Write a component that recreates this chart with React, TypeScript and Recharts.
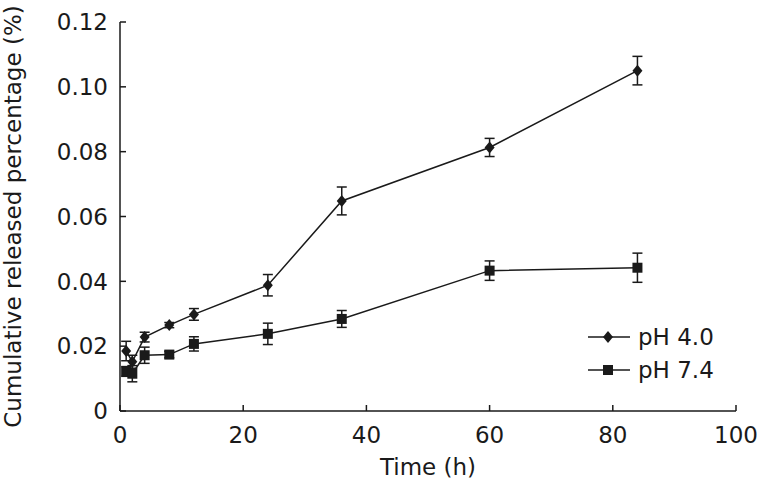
import React from "react";
import {
  ComposedChart,
  Line,
  XAxis,
  YAxis,
  ErrorBar,
  Legend,
} from "recharts";

// sampling times (h)
const times = [1, 2, 4, 8, 12, 24, 36, 60, 84];

// cumulative released percentage
const ph40Values = [0.0185, 0.0152, 0.0228, 0.0265, 0.0298, 0.0388, 0.0648, 0.0813, 0.105];
const ph40Errors = [0.003, 0.002, 0.0015, 0.0008, 0.0018, 0.0033, 0.0043, 0.0028, 0.0044];
const ph74Values = [0.0122, 0.0115, 0.0172, 0.0174, 0.0207, 0.0238, 0.0284, 0.0433, 0.0442];
const ph74Errors = [0.0015, 0.0025, 0.0025, 0.001, 0.0022, 0.0033, 0.0026, 0.003, 0.0045];

const xTicks = [0, 20, 40, 60, 80, 100];
const yTicks = [0, 0.02, 0.04, 0.06, 0.08, 0.1, 0.12];

const seriesNames = ["pH 4.0", "pH 7.4"];

const FONT = "'DejaVu Sans', sans-serif";
const INK = "#1a1a1a";
const TICK_GAP = 12;
const X_TICK_GAP = 16;

const toRows = (vals: number[], errs: number[]) =>
  times.map((t, i) => ({ time: t, value: vals[i], err: errs[i] }));

const ph40Data = toRows(ph40Values, ph40Errors);
const ph74Data = toRows(ph74Values, ph74Errors);

const Diamond = ({ cx, cy, key }: any) => {
  if (cx == null || cy == null) return <g key={key} />;
  return (
    <path
      key={key}
      d={`M${cx},${cy - 6} L${cx + 5},${cy} L${cx},${cy + 6} L${cx - 5},${cy} Z`}
      fill={INK}
    />
  );
};

const Square = ({ cx, cy, key }: any) => {
  if (cx == null || cy == null) return <g key={key} />;
  return <rect key={key} x={cx - 5} y={cy - 5} width={10} height={10} fill={INK} />;
};

const YTick = ({ x, y, payload }: any) => {
  const axisX = x + TICK_GAP;
  const v = payload.value;
  return (
    <g>
      <line x1={axisX} x2={axisX + 6} y1={y} y2={y} stroke={INK} strokeWidth={1.5} />
      <text x={x} y={y} dy="0.36em" textAnchor="end" fontSize={23} fontFamily={FONT} fill={INK}>
        {v === 0 ? "0" : v.toFixed(2)}
      </text>
    </g>
  );
};

const XTick = ({ x, y, payload }: any) => {
  const axisY = y - X_TICK_GAP;
  return (
    <g>
      <line x1={x} x2={x} y1={axisY} y2={axisY - 6} stroke={INK} strokeWidth={1.5} />
      <text x={x} y={y} dy="0.71em" textAnchor="middle" fontSize={23} fontFamily={FONT} fill={INK}>
        {payload.value}
      </text>
    </g>
  );
};

const LegendBox = () => (
  <div style={{ display: "flex", flexDirection: "column" }}>
    {seriesNames.map((name, i) => (
      <div key={name} style={{ display: "flex", alignItems: "center", height: 33 }}>
        <svg width={44} height={14}>
          <line x1={0} x2={42} y1={7} y2={7} stroke={INK} strokeWidth={1.5} />
          {i === 0 ? (
            <path d="M20,1 L25,7 L20,13 L15,7 Z" fill={INK} />
          ) : (
            <rect x={15} y={2} width={10} height={10} fill={INK} />
          )}
        </svg>
        <span style={{ marginLeft: 6, fontSize: 23, fontFamily: FONT, color: INK }}>{name}</span>
      </div>
    ))}
  </div>
);

export default function App() {
  return (
    <div style={{ position: "absolute", left: 0, top: 0, background: "#fff" }}>
      <ComposedChart width={757} height={483} margin={{ top: 22, right: 21, left: 0, bottom: 2 }}>
        <XAxis
          type="number"
          dataKey="time"
          domain={[0, 100]}
          ticks={xTicks}
          allowDataOverflow
          height={70}
          tickSize={0}
          tickMargin={X_TICK_GAP}
          tick={<XTick />}
          axisLine={{ stroke: INK, strokeWidth: 1.5 }}
          label={{
            value: "Time (h)",
            position: "insideBottom",
            offset: 6,
            style: { fontSize: 23, fontFamily: FONT, fill: INK },
          }}
        />
        <YAxis
          type="number"
          domain={[0, 0.12]}
          ticks={yTicks}
          width={120}
          tickSize={0}
          tickMargin={TICK_GAP}
          tick={<YTick />}
          axisLine={{ stroke: INK, strokeWidth: 1.5 }}
          label={{
            value: "Cumulative released percentage (%)",
            angle: -90,
            position: "insideLeft",
            offset: 13,
            style: { textAnchor: "middle", fontSize: 23, fontFamily: FONT, fill: INK },
          }}
        />
        <Legend
          layout="vertical"
          align="center"
          verticalAlign="middle"
          content={<LegendBox />}
          wrapperStyle={{ left: 588, top: 320, width: 160 }}
        />
        <Line
          data={ph40Data}
          dataKey="value"
          name={seriesNames[0]}
          stroke={INK}
          strokeWidth={1.5}
          dot={Diamond}
          activeDot={false}
          isAnimationActive={false}
        >
          <ErrorBar dataKey="err" width={5} stroke={INK} strokeWidth={1.5} direction="y" />
        </Line>
        <Line
          data={ph74Data}
          dataKey="value"
          name={seriesNames[1]}
          stroke={INK}
          strokeWidth={1.5}
          dot={Square}
          activeDot={false}
          isAnimationActive={false}
        >
          <ErrorBar dataKey="err" width={5} stroke={INK} strokeWidth={1.5} direction="y" />
        </Line>
      </ComposedChart>
    </div>
  );
}
